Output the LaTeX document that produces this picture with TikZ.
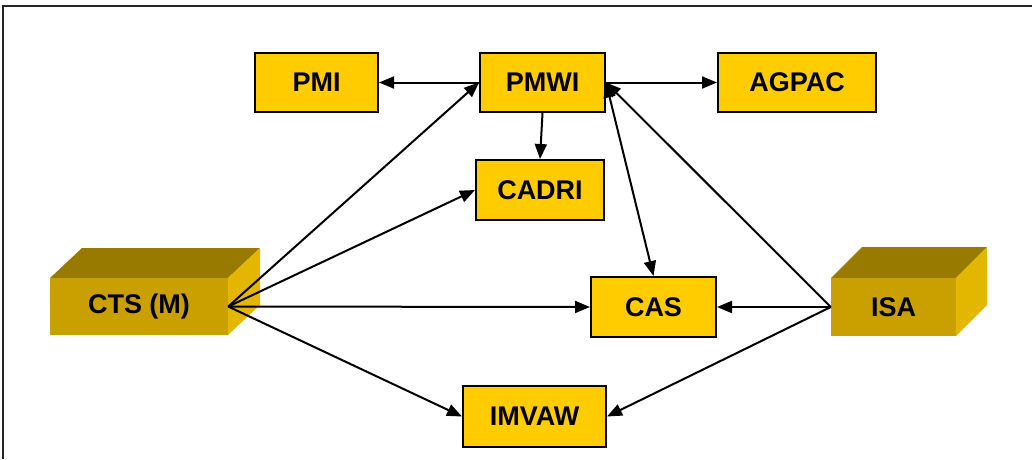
\documentclass[tikz,border=0pt]{standalone}
\usepackage{fontspec}
\setmainfont{Liberation Sans}
\usetikzlibrary{arrows.meta}
\definecolor{boxyellow}{HTML}{FFCC00}
\definecolor{goldfront}{HTML}{C9A000}
\definecolor{goldtop}{HTML}{997A00}
\definecolor{goldside}{HTML}{E3B600}
\begin{document}
\begin{tikzpicture}[x=1pt,y=-1pt,
  every node/.style={font=\fontsize{27}{30}\selectfont\bfseries},
  flatbox/.style={draw=black, line width=2pt, fill=boxyellow, inner sep=0pt, anchor=center},
  solidfront/.style={fill=goldfront, inner sep=0pt, anchor=center},
  tip/.tip={Triangle[length=15pt,width=12pt]},
  link/.style={line width=2pt, -tip},
  dlink/.style={line width=2pt, tip-tip}]
\useasboundingbox (0,0) rectangle (1032,459);
% outer frame (top and left edges)
\draw[line width=2pt, black!85] (3,459) -- (3,6) -- (1032,6);

% flat boxes
\node[flatbox, minimum width=123pt, minimum height=59pt] (pmi)   at (316.5,82.5) {PMI};
\node[flatbox, minimum width=125pt, minimum height=59pt] (pmwi)  at (542.5,82.5) {PMWI};
\node[flatbox, minimum width=158pt, minimum height=59pt] (agpac) at (797,82.5)   {AGPAC};
\node[flatbox, minimum width=128pt, minimum height=60pt] (cadri) at (540,190)    {CADRI};
\node[flatbox, minimum width=125pt, minimum height=60pt] (cas)   at (653.5,307)  {CAS};
\node[flatbox, minimum width=143pt, minimum height=61pt] (imvaw) at (534.5,416.5){IMVAW};

% solid blocks: top and right faces, then front face
\fill[goldtop]  (50,278) -- (82,248) -- (260,248) -- (228,278) -- cycle;
\fill[goldside] (228,278) -- (260,248) -- (260,305) -- (228,335) -- cycle;
\node[solidfront, minimum width=178pt, minimum height=57pt] (cts) at (139,306.5) {CTS (M)};

\fill[goldtop]  (831,278) -- (862,247) -- (987,247) -- (956,278) -- cycle;
\fill[goldside] (956,278) -- (987,247) -- (987,305) -- (956,336) -- cycle;
\node[solidfront, minimum width=125pt, minimum height=58pt] (isa) at (893.5,307) {ISA};

% connectors
\draw[link] (pmwi.west) -- (pmi.east);
\draw[link] (pmwi.east) -- (agpac.west);
\draw[link] (pmwi.south) -- (cadri.north);
\draw[dlink] (pmwi.east) -- (cas.north);

\draw[link] (cts.east) -- (pmwi.west);
\draw[link] (cts.east) -- (cadri.west);
\draw[link] (cts.east) -- (cas.west);
\draw[link] (cts.east) -- (imvaw.west);

\draw[link] (isa.west) -- (pmwi.east);
\draw[link] (isa.west) -- (cas.east);
\draw[link] (isa.west) -- (imvaw.east);
\end{tikzpicture}
\end{document}
